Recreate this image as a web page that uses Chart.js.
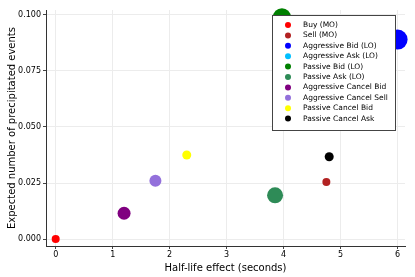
<!DOCTYPE html>
<html>
<head>
<style>
  html, body { margin: 0; padding: 0; background: #fff; }
  #wrap { position: relative; width: 415px; height: 277px; }
</style>
</head>
<body>
<div id="wrap"><canvas id="chart"></canvas></div>

<script src="https://cdn.jsdelivr.net/npm/chart.js"></script>

<script>
  const labels = ['Buy (MO)', 'Sell (MO)', 'Aggressive Bid (LO)', 'Aggressive Ask (LO)',
    'Passive Bid (LO)', 'Passive Ask (LO)', 'Aggressive Cancel Bid', 'Aggressive Cancel Sell',
    'Passive Cancel Bid', 'Passive Cancel Ask']
  const halfLife = [0, 4.75, 6.0, 6.0, 3.97, 3.85, 1.2, 1.75, 2.3, 4.8]
  const expected = [0, 0.0255, 0.089, 0.089, 0.099, 0.0195, 0.0115, 0.026, 0.0375, 0.0367]
  const sizes = [4, 4, 10, 6, 9, 8, 6.5, 6, 4.5, 4.5]
  const colors = ['#ff0000', '#b22222', '#0000ff', '#00bfff', '#008000', '#2e8b57',
    '#800080', '#9370db', '#ffff00', '#000000']

  const font = 'DejaVu Sans'

  const legendBox = {
    id: 'legendBox',
    afterDraw(chart) {
      const c = chart.ctx
      const x0 = 272, y0 = 15, w = 123, h = 115
      c.save()
      c.fillStyle = '#fff'
      c.fillRect(x0, y0, w, h)
      c.strokeStyle = '#444'
      c.lineWidth = 1
      c.strokeRect(x0 + 0.5, y0 + 0.5, w, h)
      c.font = '7.5px ' + font
      c.textBaseline = 'middle'
      chart.data.datasets.forEach((ds, i) => {
        const y = 25 + i * 10.4
        c.beginPath()
        c.arc(288, y, 3, 0, Math.PI * 2)
        c.fillStyle = ds.backgroundColor
        c.fill()
        c.fillStyle = '#000'
        c.fillText(ds.label, 303, y)
      })
      c.restore()
    }
  }

  new Chart(document.getElementById('chart'), {
    type: 'scatter',
    data: {
      datasets: labels.map((label, i) => ({
        label,
        data: [{ x: halfLife[i], y: expected[i] }],
        backgroundColor: colors[i],
        borderColor: colors[i],
        pointRadius: sizes[i],
        pointHoverRadius: sizes[i],
        borderWidth: 0,
        clip: false,
        order: i === 3 ? 20 : 10 - i
      }))
    },
    options: {
      responsive: true,
      maintainAspectRatio: false,
      animation: false,
      events: [],
      layout: { padding: { top: 8, right: 8, left: 6, bottom: 3 } },
      plugins: { legend: { display: false }, tooltip: { enabled: false } },
      scales: {
        x: {
          type: 'linear',
          min: -0.17,
          max: 6.13,
          afterBuildTicks: s => { s.ticks = [0, 1, 2, 3, 4, 5, 6].map(v => ({ value: v })) },
          afterFit: s => { s.height = 28 },
          grid: { color: '#ececec', drawTicks: true, tickLength: 3, tickColor: '#444' },
          border: { color: '#333', width: 1 },
          ticks: { color: '#000', font: { family: font, size: 8 }, padding: 1, maxRotation: 0 },
          title: { display: true, text: 'Half-life effect (seconds)', color: '#000',
            font: { family: font, size: 10 }, padding: { top: 0, bottom: 0 } }
        },
        y: {
          type: 'linear',
          min: -0.0031,
          max: 0.1022,
          afterBuildTicks: s => { s.ticks = [0, 0.025, 0.05, 0.075, 0.1].map(v => ({ value: v })) },
          afterFit: s => { s.width = 40 },
          grid: { color: '#ececec', drawTicks: true, tickLength: 3, tickColor: '#444' },
          border: { color: '#333', width: 1 },
          ticks: { color: '#000', font: { family: font, size: 8 }, padding: 2,
            callback: v => v.toFixed(3) },
          title: { display: true, text: 'Expected number of precipitated events', color: '#000',
            font: { family: font, size: 10 }, padding: { top: 0, bottom: 2 } }
        }
      }
    },
    plugins: [legendBox]
  })
</script>
</body>
</html>
